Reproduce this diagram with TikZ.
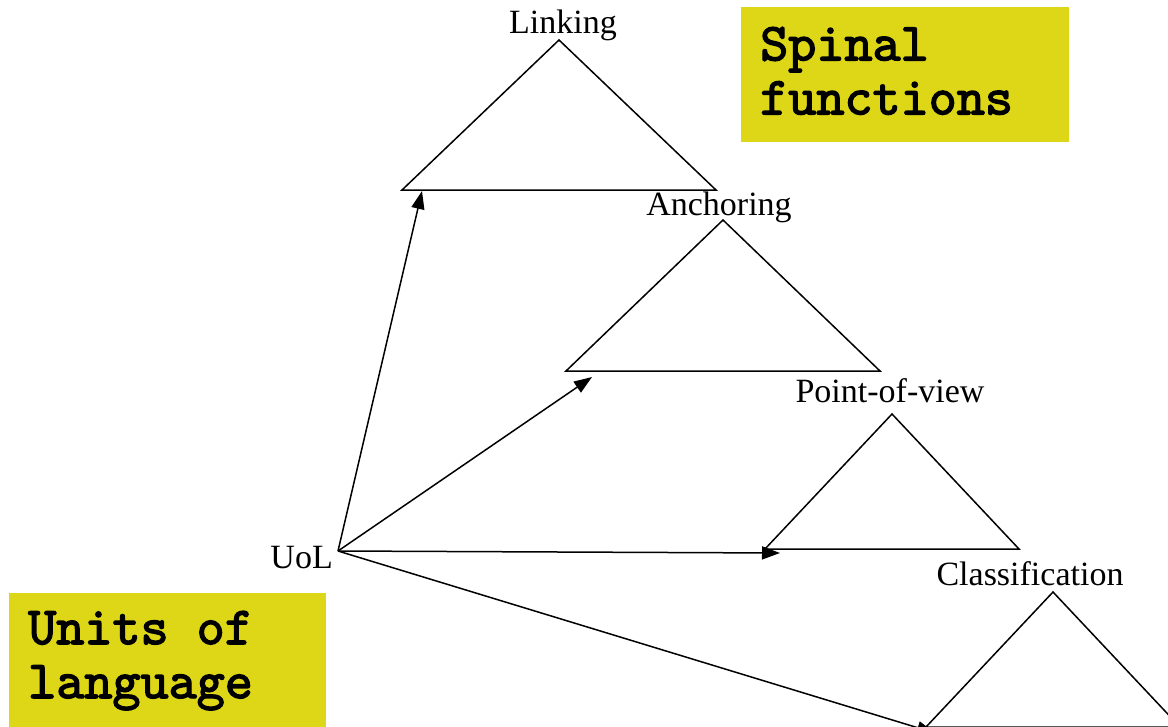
\documentclass[tikz,border=0pt]{standalone}
\usepackage{fontspec}
\setmainfont{Liberation Serif}
\newfontfamily\boxfont{lmmono10-regular.otf}[FakeBold=2.5]
\usetikzlibrary{arrows.meta}

\definecolor{boxyellow}{RGB}{221,215,24}

\begin{document}
\begin{tikzpicture}[x=1pt,y=-1pt,
    lbl/.style={font=\fontsize{34}{40}\selectfont, inner sep=0pt, anchor=base},
    tri/.style={line width=1.5pt},
    feed/.style={line width=1.5pt, -{Triangle[length=18pt,width=13pt]}},
    box/.style={fill=boxyellow, font=\boxfont\fontsize{53.5}{54}\selectfont,
      align=left, anchor=north west, inner xsep=19pt}]
  \useasboundingbox (0,0) rectangle (1168,726);
  \clip (0,0) rectangle (1168,726);

  % the four functions
  \foreach \x/\y/\w/\h/\dx/\dy/\name/\txt/\lx/\ly in {
      559/40/157/150/20/1/linking/Linking/563/33,
      723/220/157/151/26/6/anchoring/Anchoring/719/215,
      892/414/127/135/15/4/pov/Point-of-view/890/402,
      1053/592/127/135/9/6/classif/Classification/1030/585}
  {
    \draw[tri] (\x,\y) -- ++(-\w,\h) -- ++(2*\w,0) -- cycle;
    \node[lbl] (\name) at (\lx,\ly) {\txt};
    \coordinate (\name-in) at (\x-\w+\dx,\y+\h+\dy);
  }

  \node[lbl, anchor=base east] (uol) at (333,568) {UoL};
  \coordinate (hub) at (338,551);

  \foreach \t in {linking,anchoring,pov,classif}
    \draw[feed] (hub) -- (\t-in);

  \node[box, minimum width=328pt, minimum height=135pt, text width=290pt] (spinal) at (741,7) {Spinal\\functions\rule[-8pt]{0pt}{8pt}};
  \node[box, minimum width=317pt, minimum height=135pt, text width=279pt] (units) at (9,593) {Units\hspace{.525em}of\\language};
\end{tikzpicture}
\end{document}
